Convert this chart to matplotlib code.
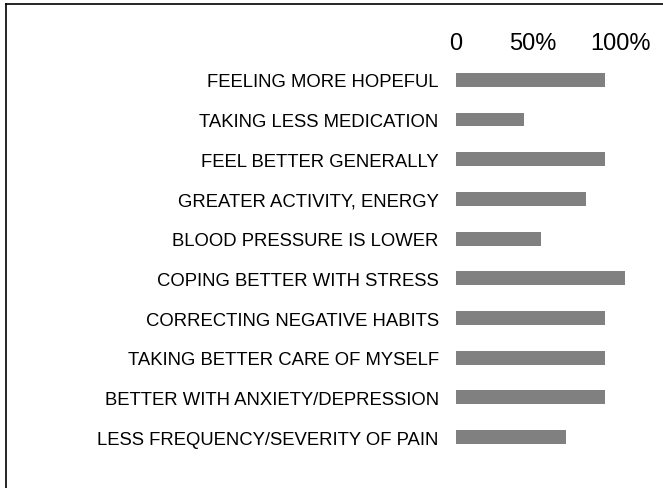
import matplotlib
matplotlib.use("Agg")
import matplotlib.pyplot as plt
import matplotlib.transforms as mtransforms
from matplotlib.lines import Line2D

# Data
categories = [
    "FEELING MORE HOPEFUL",
    "TAKING LESS MEDICATION",
    "FEEL BETTER GENERALLY",
    "GREATER ACTIVITY, ENERGY",
    "BLOOD PRESSURE IS LOWER",
    "COPING BETTER WITH STRESS",
    "CORRECTING NEGATIVE HABITS",
    "TAKING BETTER CARE OF MYSELF",
    "BETTER WITH ANXIETY/DEPRESSION",
    "LESS FREQUENCY/SEVERITY OF PAIN",
]
percent = [88, 40, 88, 77, 50, 100, 88, 88, 88, 65]
tick_values = [0, 50, 100]
tick_labels = ["0", "50%", "100%"]

plt.rcParams["font.family"] = ["Liberation Sans", "DejaVu Sans"]

fig = plt.figure(figsize=(6.63, 4.89), dpi=100)
ax = fig.add_axes([0.6878, 0.0634, 0.2549, 0.8119])

ax.barh(range(len(categories)), percent, height=0.35, color="#808080")

ax.set_xlim(0, 100)
ax.set_ylim(len(categories) - 0.5, -0.5)
ax.set_yticks(range(len(categories)))
ax.set_yticklabels(categories, fontsize=13.3)
ax.set_xticks(tick_values)
ax.set_xticklabels(tick_labels, fontsize=17)
ax.xaxis.tick_top()
ax.tick_params(axis="x", length=0, pad=4.5)
ax.tick_params(axis="y", length=0, pad=12.5)
for s in ax.spines.values():
    s.set_visible(False)

# Nudge the top tick labels a little left, as in the original
for lab, dx in zip(ax.get_xticklabels(), [0, -8, -5]):
    lab.set_transform(lab.get_transform() + mtransforms.ScaledTranslation(dx / 100, 0, fig.dpi_scale_trans))

# Frame lines (top and left only)
W, H = 663, 489
fig.add_artist(Line2D([6 / W, 1], [1 - 5 / H, 1 - 5 / H], color="black", lw=1.2, transform=fig.transFigure))
fig.add_artist(Line2D([6 / W, 6 / W], [0, 1 - 5 / H], color="black", lw=1.2, transform=fig.transFigure))

fig.savefig("out.png", dpi=100)
